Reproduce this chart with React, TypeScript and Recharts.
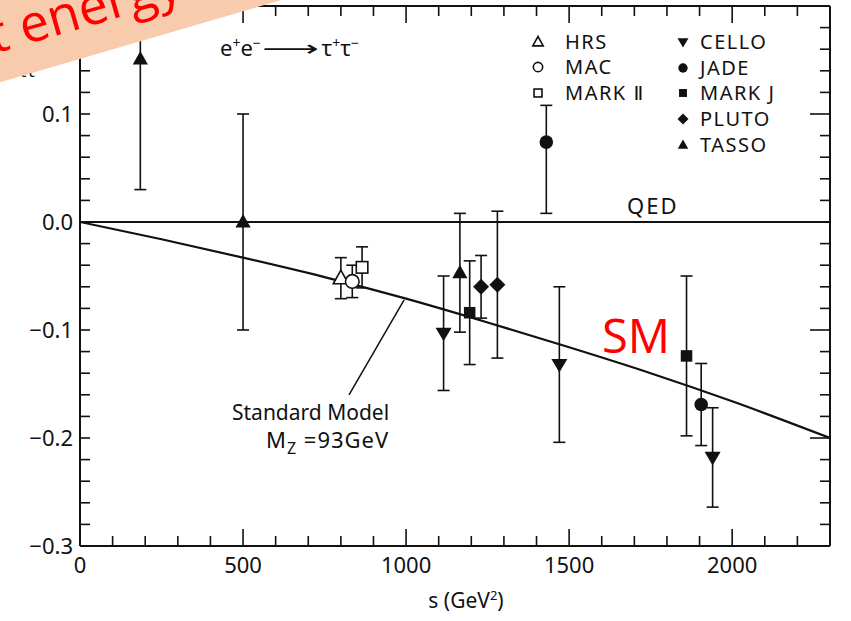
import React from "react";
import { ComposedChart, Scatter, Line, XAxis, YAxis, ErrorBar, ReferenceLine } from "recharts";

// Standard Model curve (Mz = 93 GeV)
const smS = [0, 250, 500, 750, 1000, 1250, 1500, 1750, 2000, 2300];
const smA = [0, -0.016, -0.033, -0.051, -0.071, -0.093, -0.116, -0.14, -0.166, -0.2];

// measurements: s (GeV^2), asymmetry, error
const hrs = [{ s: 800, a: -0.052, err: 0.019 }];
const mac = [{ s: 835, a: -0.055, err: 0.015 }];
const markII = [{ s: 865, a: -0.042, err: 0.019 }];
const cello = [
  { s: 1115, a: -0.103, err: 0.053 },
  { s: 1470, a: -0.132, err: 0.072 },
  { s: 1940, a: -0.218, err: 0.046 },
];
const jade = [
  { s: 1430, a: 0.074, err: [0.066, 0.034] },
  { s: 1905, a: -0.169, err: 0.038 },
];
const markJ = [
  { s: 1195, a: -0.084, err: 0.048 },
  { s: 1860, a: -0.124, err: 0.074 },
];
const pluto = [
  { s: 1230, a: -0.06, err: 0.029 },
  { s: 1280, a: -0.058, err: 0.068 },
];
const tasso = [
  { s: 185, a: 0.151, err: 0.121 },
  { s: 500, a: 0.0, err: 0.1 },
  { s: 1165, a: -0.047, err: 0.055 },
];

const xLabelTicks = [0, 500, 1000, 1500, 2000];
const xMinorTicks = [100, 200, 300, 400, 600, 700, 800, 900, 1100, 1200, 1300, 1400, 1600, 1700, 1800, 1900, 2100, 2200];
const yLabelTicks = [-0.3, -0.2, -0.1, 0, 0.1];
const yMajorTicks = [-0.2, -0.1, 0, 0.1];
const yMinorTicks = [
  -0.28, -0.26, -0.24, -0.22, -0.18, -0.16, -0.14, -0.12, -0.08, -0.06, -0.04, -0.02,
  0.02, 0.04, 0.06, 0.08, 0.12, 0.14, 0.16, 0.18,
];

// pointer from the curve to its caption, in data units
const pointerLine = [{ x: 994, y: -0.072 }, { x: 825, y: -0.16 }];

type Glyph = "triOpen" | "circleOpen" | "squareOpen" | "triDown" | "circle" | "square" | "diamond" | "tri";

const series: { name: string; data: any[]; glyph: Glyph }[] = [
  { name: "HRS", data: hrs, glyph: "triOpen" },
  { name: "MAC", data: mac, glyph: "circleOpen" },
  { name: "MARK \u2161", data: markII, glyph: "squareOpen" },
  { name: "CELLO", data: cello, glyph: "triDown" },
  { name: "JADE", data: jade, glyph: "circle" },
  { name: "MARK J", data: markJ, glyph: "square" },
  { name: "PLUTO", data: pluto, glyph: "diamond" },
  { name: "TASSO", data: tasso, glyph: "tri" },
];

const smData = smS.map((s, i) => ({ s, a: smA[i] }));

const ink = "#111";
const font = "'Noto Sans', 'DejaVu Sans', sans-serif";
const X_DOMAIN = [0, 2300];
const Y_DOMAIN = [-0.3, 0.2];

function Mark({ kind, cx, cy, r }: { kind: Glyph; cx: number; cy: number; r: number }) {
  const open = kind.endsWith("Open");
  const fill = open ? "#fff" : ink;
  const sw = open ? 1.6 : 0;
  switch (kind) {
    case "triOpen":
    case "tri":
      return (
        <polygon
          points={`${cx},${cy - r} ${cx + r * 0.95},${cy + r * 0.7} ${cx - r * 0.95},${cy + r * 0.7}`}
          fill={fill}
          stroke={ink}
          strokeWidth={sw}
        />
      );
    case "triDown":
      return <polygon points={`${cx - r},${cy - r * 0.7} ${cx + r},${cy - r * 0.7} ${cx},${cy + r}`} fill={ink} />;
    case "circleOpen":
    case "circle":
      return <circle cx={cx} cy={cy} r={r * 0.85} fill={fill} stroke={ink} strokeWidth={sw} />;
    case "squareOpen":
    case "square":
      return (
        <rect x={cx - r * 0.72} y={cy - r * 0.72} width={r * 1.44} height={r * 1.44} fill={fill} stroke={ink} strokeWidth={sw} />
      );
    case "diamond":
      return <polygon points={`${cx},${cy - r} ${cx + r},${cy} ${cx},${cy + r} ${cx - r},${cy}`} fill={ink} />;
  }
  return null;
}

const fmtY = (v: number) => (v === 0 ? "0.0" : v.toFixed(1).replace("-", "\u2212"));

// inward tick marks on both ends of a reference line
const xTickShape = (len: number) => (p: any) => {
  const top = Math.min(p.y1, p.y2);
  const bot = Math.max(p.y1, p.y2);
  return (
    <g stroke={ink} strokeWidth={1.6}>
      <line x1={p.x1} x2={p.x1} y1={top} y2={top + len} />
      <line x1={p.x1} x2={p.x1} y1={bot} y2={bot - len} />
    </g>
  );
};
const yTickShape = (lenL: number, lenR: number) => (p: any) => {
  const l = Math.min(p.x1, p.x2);
  const r = Math.max(p.x1, p.x2);
  return (
    <g stroke={ink} strokeWidth={1.6}>
      <line x1={l} x2={l + lenL} y1={p.y1} y2={p.y1} />
      <line x1={r} x2={r - lenR} y1={p.y1} y2={p.y1} />
    </g>
  );
};

const legendPos = [
  { mx: 538, tx: 565, y: 42 },
  { mx: 538, tx: 565, y: 67 },
  { mx: 538, tx: 565, y: 93 },
  { mx: 683, tx: 700, y: 42 },
  { mx: 683, tx: 700, y: 68 },
  { mx: 683, tx: 700, y: 93 },
  { mx: 683, tx: 700, y: 119 },
  { mx: 683, tx: 700, y: 145 },
];

const txt: React.CSSProperties = { position: "absolute", color: ink, whiteSpace: "nowrap", lineHeight: 1 };

export default function App() {
  return (
    <div style={{ position: "absolute", left: 0, top: 0, width: 851, height: 621, background: "#fff", overflow: "hidden", fontFamily: font }}>
      <ComposedChart width={851} height={621} margin={{ top: 6, right: 21, bottom: 35, left: 0 }}>
        <XAxis
          dataKey="s"
          type="number"
          domain={X_DOMAIN}
          allowDataOverflow
          ticks={xLabelTicks}
          interval={0}
          height={40}
          tickSize={0}
          tickMargin={11}
          tickLine={false}
          axisLine={{ stroke: ink, strokeWidth: 2 }}
          tick={{ fill: ink, fontSize: 22, fontFamily: font }}
        />
        <YAxis
          type="number"
          domain={Y_DOMAIN}
          allowDataOverflow
          ticks={yLabelTicks}
          interval={0}
          width={80}
          tickSize={0}
          tickMargin={7}
          tickLine={false}
          tickFormatter={fmtY}
          axisLine={{ stroke: ink, strokeWidth: 2 }}
          tick={{ fill: ink, fontSize: 22, fontFamily: font }}
        />

        {/* frame top and right */}
        <ReferenceLine y={0.2} stroke={ink} strokeWidth={2} />
        <ReferenceLine x={2300} stroke={ink} strokeWidth={2} />

        {xMinorTicks.map((t) => (
          <ReferenceLine key={"xm" + t} x={t} shape={xTickShape(10)} />
        ))}
        {xLabelTicks.map((t) => (
          <ReferenceLine key={"xM" + t} x={t} shape={xTickShape(17)} />
        ))}
        {yMinorTicks.map((t) => (
          <ReferenceLine key={"ym" + t} y={t} shape={yTickShape(10, 10)} />
        ))}
        {yMajorTicks.map((t) => (
          <ReferenceLine key={"yM" + t} y={t} shape={yTickShape(10, 20)} />
        ))}

        <ReferenceLine y={0} stroke={ink} strokeWidth={1.8} />
        <ReferenceLine segment={pointerLine} stroke={ink} strokeWidth={1.5} />
        <Line data={smData} dataKey="a" type="monotone" stroke={ink} strokeWidth={2.2} dot={false} isAnimationActive={false} />

        {series.map((sr) => (
          <Scatter
            key={sr.name}
            name={sr.name}
            data={sr.data}
            dataKey="a"
            isAnimationActive={false}
            shape={(p: any) => <Mark kind={sr.glyph} cx={p.cx} cy={p.cy} r={8} />}
          >
            <ErrorBar dataKey="err" direction="y" width={6} stroke={ink} strokeWidth={1.6} />
          </Scatter>
        ))}
      </ComposedChart>

      {/* legend */}
      {series.map((sr, i) => (
        <React.Fragment key={sr.name}>
          <svg style={{ position: "absolute", left: legendPos[i].mx - 8, top: legendPos[i].y - 8 }} width={16} height={16}>
            <Mark kind={sr.glyph} cx={8} cy={8} r={5.5} />
          </svg>
          <div style={{ ...txt, left: legendPos[i].tx, top: legendPos[i].y, transform: "translateY(-50%)", fontSize: 20, letterSpacing: 1.5 }}>
            {sr.name}
          </div>
        </React.Fragment>
      ))}

      <div style={{ ...txt, left: 220, top: 47, transform: "translateY(-50%)", fontSize: 22 }}>
        e<sup style={{ fontSize: 14 }}>+</sup>e<sup style={{ fontSize: 14 }}>−</sup>
        <span style={{ display: "inline-block", transform: "scaleX(1.8)", margin: "0 15px 0 14px" }}>⟶</span>
        τ<sup style={{ fontSize: 14 }}>+</sup>τ<sup style={{ fontSize: 14 }}>−</sup>
      </div>
      <div style={{ ...txt, left: 627, top: 205, transform: "translateY(-50%)", fontSize: 22, letterSpacing: 2 }}>QED</div>
      <div style={{ ...txt, left: 232, top: 412, transform: "translateY(-50%)", fontSize: 21 }}>Standard Model</div>
      <div style={{ ...txt, left: 266, top: 442, transform: "translateY(-50%)", fontSize: 22, letterSpacing: 1 }}>
        M<sub style={{ fontSize: 16 }}>Z</sub> =93GeV
      </div>
      <div style={{ ...txt, left: 466, top: 600, transform: "translate(-50%, -50%)", fontSize: 21 }}>
        s (GeV<sup style={{ fontSize: 13 }}>2</sup>)
      </div>
      <div style={{ ...txt, left: 602, top: 335, transform: "translateY(-50%)", fontSize: 47, color: "#ff0000", fontFamily: "'Open Sans', sans-serif" }}>
        SM
      </div>

      {/* y axis title, mostly hidden behind the banner */}
      <div style={{ ...txt, left: 2, top: 48, fontSize: 26 }}>
        A<sub style={{ fontSize: 17 }}>ττ</sub>
      </div>

      {/* slide banner */}
      <div
        style={{
          position: "absolute",
          left: -40,
          top: -6,
          width: 420,
          height: 100,
          background: "#f8cbad",
          transform: "rotate(-16.3deg)",
          transformOrigin: "0 100%",
        }}
      >
        <div
          style={{
            position: "absolute",
            left: 44,
            bottom: 23,
            fontSize: 52,
            lineHeight: 1,
            color: "#ff0000",
            fontFamily: "'Open Sans', sans-serif",
            whiteSpace: "nowrap",
          }}
        >
          t energy
        </div>
      </div>
    </div>
  );
}
